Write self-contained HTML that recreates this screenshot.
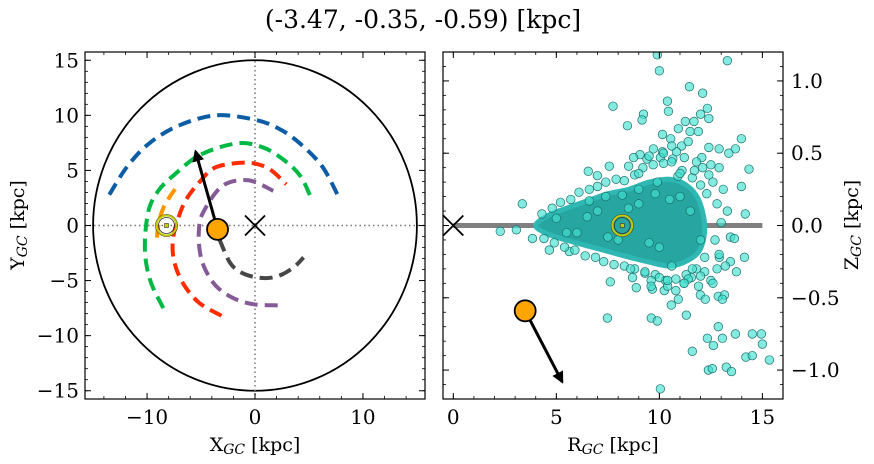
<!DOCTYPE html>
<html><head><meta charset="utf-8"><style>
body{margin:0;background:#fff}
svg{display:block;font-family:"DejaVu Serif","Liberation Serif",serif}
</style></head><body>
<svg id="fig" width="874" height="464" viewBox="0 0 874 464">
<text x="423" y="28" text-anchor="middle" font-size="25">(-3.47, -0.35, -0.59) [kpc]</text>
<g id="left"></g>
<g id="right"></g>
<text x="255" y="451" text-anchor="middle" font-size="19">X<tspan font-style="italic" font-size="14" dy="3">GC</tspan><tspan dy="-3"> [kpc]</tspan></text>
<text transform="translate(24,225) rotate(-90)" text-anchor="middle" font-size="19">Y<tspan font-style="italic" font-size="14" dy="3">GC</tspan><tspan dy="-3"> [kpc]</tspan></text>
<text x="613" y="451" text-anchor="middle" font-size="19">R<tspan font-style="italic" font-size="14" dy="3">GC</tspan><tspan dy="-3"> [kpc]</tspan></text>
<text transform="translate(858,225) rotate(-90)" text-anchor="middle" font-size="19">Z<tspan font-style="italic" font-size="14" dy="3">GC</tspan><tspan dy="-3"> [kpc]</tspan></text>
</svg>
<script>
// ---- data ----
const armBlueX=[-13.5,-11.8,-9.75,-7,-3.6,0,2.2,4.1,6.2,7.7];
const armBlueY=[2.8,5.4,7.5,9.1,10.0,9.6,8.8,7.5,5.4,2.7];
const armGreenX=[-8.5,-9.7,-10.2,-9.9,-9.0,-7.6,-5.1,-1.7,0.7,2.6,4.2,5.2];
const armGreenY=[-7.5,-5.0,-2.2,1.2,3.1,4.5,6.4,7.45,7.1,6.0,4.5,2.5];
const armRedX=[-3.1,-5.2,-6.7,-7.5,-7.6,-7.1,-6.35,-5.0,-3.6,-0.8,1.2,2.9];
const armRedY=[-8.2,-7.0,-5.2,-3.2,-1.25,0.7,2.4,4.1,5.3,5.7,5.2,3.75];
const armPurpleX=[2.1,-0.1,-2.0,-3.6,-4.6,-5.1,-5.2,-4.8,-3.0,-0.6,1.7];
const armPurpleY=[-7.25,-7.15,-6.6,-5.5,-4.0,-2.45,-0.5,1.2,3.6,4.1,3.15];
const armGrayX=[-3.3,-2.3,-1.2,0.1,1.4,2.6,3.7,4.5];
const armGrayY=[-1.25,-3.4,-4.3,-4.7,-4.75,-4.4,-3.7,-2.9];
const armOrangeX=[-9.1,-8.9,-8.5,-7.9,-7.4];
const armOrangeY=[-1.1,0.3,1.6,2.6,3.3];
const objX=-3.47, objY=-0.35, objZ=-0.59;
const velTipX=-5.5, velTipY=6.7, velTipR=5.28, velTipZ=-1.08;
const sunX=-8.2, sunR=8.2;
const xTicksL=[-10,0,10], yTicksL=[-15,-10,-5,0,5,10,15];
const xTicksR=[0,5,10,15], zTicksR=[-1.0,-0.5,0.0,0.5,1.0];
const coreR=[4.0,4.6,5.5,6.5,7.5,8.5,9.5,10.5,11.3,11.9,12.2,12.0,11.4,10.5,9.4,8.3,7.0,5.7,4.6];
const coreZ=[0.0,0.07,0.12,0.17,0.22,0.25,0.3,0.32,0.28,0.18,0.0,-0.16,-0.24,-0.28,-0.25,-0.21,-0.16,-0.11,-0.06];
const starR=[9.9,10.0,13.3,11.46,12.1,7.75,10.39,10.44,12.33,12.0,12.4,9.23,9.16,8.45,11.26,11.68,10.92,11.49,11.89,10.15,10.55,13.98,11.08,9.71,10.15,10.83,12.4,12.9,13.69,13.37,9.06,8.75,10.05,9.4,10.65,11.21,12.06,7.57,8.51,6.55,6.99,14.35,13.98,14.17,3.35,2.28,3.06,3.84,4.66,5.63,13.45,13.64,14.13,13.74,13.45,12.91,7.62,8.88,9.66,10.24,10.58,10.92,11.99,12.23,12.86,13.16,13.06,11.55,7.48,9.61,9.9,12.86,12.33,13.06,12.62,13.69,14.51,14.95,15.0,14.2,14.51,15.34,11.6,12.38,12.57,13.25,13.5,10.05,11.31,
 4.3,4.8,5.2,5.7,6.1,6.6,7.0,7.4,7.9,8.3,8.8,9.2,9.7,10.2,10.6,11.1,11.6,12.0,12.3,
 4.4,4.9,5.4,5.9,6.4,6.9,7.3,7.8,8.3,8.8,9.3,9.8,10.3,10.8,11.3,11.8,12.2,
 12.6,12.8,13.0,12.7,13.2,12.5,11.9,11.2,10.4,9.6,8.7,9.9,10.9,11.7,12.5,13.1,12.9,12.2,11.4,10.6,9.8,9.0,8.2,7.4,6.6,
 5.0,6.0,7.0,8.0,9.0,10.0,11.0,12.0,5.5,6.5,7.5,8.5,9.5,10.5,11.5,
 9.5,10.2,11.0,11.8,12.4,9.0,10.6,11.4,12.1,12.9,9.3,10.0,10.8,11.6,12.6,8.6,9.6,10.4,11.2,12.0,12.8,13.3];
const starZ=[1.18,1.07,1.14,0.96,0.915,0.825,0.86,0.79,0.81,0.77,0.74,0.77,0.73,0.69,0.72,0.72,0.67,0.65,0.65,0.63,0.6,0.6,0.55,0.53,0.51,0.51,0.54,0.53,0.53,0.5,0.49,0.47,0.47,0.46,0.46,0.47,0.47,0.41,0.41,0.375,0.345,0.39,0.27,0.08,0.15,-0.04,-0.03,-0.09,-0.17,-0.18,-0.08,-0.09,-0.22,-0.32,-0.25,-0.22,-0.39,-0.43,-0.44,-0.45,-0.55,-0.51,-0.48,-0.51,-0.49,-0.48,-0.51,-0.36,-0.64,-0.64,-0.66,-0.7,-0.78,-0.78,-0.83,-0.75,-0.75,-0.75,-0.82,-0.91,-0.9,-0.93,-0.87,-1.0,-0.99,-0.98,-1.01,-1.13,-0.62,
 0.08,0.12,0.16,0.18,0.23,0.25,0.27,0.3,0.32,0.31,0.35,0.4,0.42,0.43,0.44,0.38,0.33,0.28,0.22,
 -0.09,-0.12,-0.15,-0.17,-0.21,-0.22,-0.25,-0.27,-0.28,-0.3,-0.33,-0.34,-0.38,-0.37,-0.34,-0.3,-0.22,
 0.3,0.15,0.02,-0.1,-0.28,-0.38,-0.42,-0.4,-0.42,-0.38,-0.36,0.3,0.34,0.38,0.42,0.25,-0.2,-0.32,-0.37,-0.28,0.22,0.25,0.21,0.2,0.17,
 0.05,-0.05,0.1,-0.1,0.15,-0.15,0.2,-0.1,-0.05,0.06,-0.08,0.12,-0.12,0.18,0.1,
 0.48,0.5,0.36,0.44,0.35,0.36,0.55,0.58,0.4,0.4,-0.32,-0.36,-0.45,-0.3,-0.4,-0.3,-0.42,-0.38,-0.4,-0.35,-0.3,0.1];

// ---- helpers ----
const NS='http://www.w3.org/2000/svg';
function mk(parent,tag,attrs){const e=document.createElementNS(NS,tag);for(const k in attrs)e.setAttribute(k,attrs[k]);parent.appendChild(e);return e;}
const L={x0:85,x1:425,y0:52,y1:399,xmin:-15.75,xmax:15.75,ymin:-15.75,ymax:15.75};
const R={x0:443,x1:783,y0:52,y1:399,xmin:-0.5,xmax:16.0,ymin:-1.2,ymax:1.2};
const sx=(p,v)=>p.x0+(v-p.xmin)/(p.xmax-p.xmin)*(p.x1-p.x0);
const sy=(p,v)=>p.y1-(v-p.ymin)/(p.ymax-p.ymin)*(p.y1-p.y0);
function smooth(pts,closed){
  const n=pts.length;let d=`M${pts[0][0].toFixed(1)},${pts[0][1].toFixed(1)}`;
  const get=i=>closed?pts[(i+n)%n]:pts[Math.max(0,Math.min(n-1,i))];
  const m=closed?n:n-1;
  for(let i=0;i<m;i++){const p0=get(i-1),p1=get(i),p2=get(i+1),p3=get(i+2);
    const c1=[p1[0]+(p2[0]-p0[0])/6,p1[1]+(p2[1]-p0[1])/6],c2=[p2[0]-(p3[0]-p1[0])/6,p2[1]-(p3[1]-p1[1])/6];
    d+=`C${c1[0].toFixed(1)},${c1[1].toFixed(1)} ${c2[0].toFixed(1)},${c2[1].toFixed(1)} ${p2[0].toFixed(1)},${p2[1].toFixed(1)}`;}
  return d+(closed?'Z':'');
}
const gl=document.getElementById('left'), gr=document.getElementById('right');
mk(gl,'defs',{}).innerHTML='<clipPath id="cl"><rect x="85" y="52" width="340" height="347"/></clipPath><clipPath id="cr"><rect x="443" y="52" width="340" height="347"/></clipPath><marker id="ah" viewBox="0 0 10 10" refX="8" refY="5" markerWidth="4" markerHeight="4" orient="auto"><path d="M0,0 L10,5 L0,10 z" fill="#000"/></marker>';

function ticks(g,p,xs,ys,xminor,yminor,yRight){
  for(let v=Math.ceil(p.xmin/xminor)*xminor;v<=p.xmax+1e-9;v+=xminor){const x=sx(p,v);
    const t1=mk(g,'line',{x1:x,x2:x,y1:p.y1,y2:p.y1-3,stroke:'#000','stroke-width':0.8});
    const t2=mk(g,'line',{x1:x,x2:x,y1:p.y0,y2:p.y0+3,stroke:'#000','stroke-width':0.8});}
  for(let v=Math.ceil(p.ymin/yminor-1e-9)*yminor;v<=p.ymax+1e-9;v+=yminor){const y=sy(p,v);
    const t1=mk(g,'line',{x1:p.x0,x2:p.x0+3,y1:y,y2:y,stroke:'#000','stroke-width':0.8});
    const t2=mk(g,'line',{x1:p.x1,x2:p.x1-3,y1:y,y2:y,stroke:'#000','stroke-width':0.8});}
  xs.forEach(v=>{const x=sx(p,v);
    const a=mk(g,'line',{x1:x,x2:x,y1:p.y1,y2:p.y1-6,stroke:'#000','stroke-width':1});
    const b=mk(g,'line',{x1:x,x2:x,y1:p.y0,y2:p.y0+6,stroke:'#000','stroke-width':1});
    const t=mk(g,'text',{x:x,y:p.y1+25,'text-anchor':'middle','font-size':20});t.textContent=String(v).replace('-','\u2212');
    });
  ys.forEach(v=>{const y=sy(p,v);
    const a=mk(g,'line',{x1:p.x0,x2:p.x0+6,y1:y,y2:y,stroke:'#000','stroke-width':1});
    const b=mk(g,'line',{x1:p.x1,x2:p.x1-6,y1:y,y2:y,stroke:'#000','stroke-width':1});
    const lab=yRight?v.toFixed(1):String(v);
    const t=mk(g,'text',{x:yRight?p.x1+8:p.x0-6,y:y+7,'text-anchor':yRight?'start':'end','font-size':20});t.textContent=lab.replace('-','\u2212');
    });
}

// ---- left panel ----
const cL=mk(gl,'g',{'clip-path':'url(#cl)'});
const circ=mk(cL,'ellipse',{cx:sx(L,0),cy:sy(L,0),rx:sx(L,15)-sx(L,0),ry:sy(L,0)-sy(L,15),fill:'none',stroke:'#000','stroke-width':1.8});

const hz=mk(cL,'line',{x1:L.x0,x2:L.x1,y1:sy(L,0),y2:sy(L,0),stroke:'#777','stroke-width':1.5,'stroke-dasharray':'1.5 3'});

const vt=mk(cL,'line',{x1:sx(L,0),x2:sx(L,0),y1:L.y0,y2:L.y1,stroke:'#777','stroke-width':1.5,'stroke-dasharray':'1.5 3'});

function arm(xs,ys,color,name){
  const pts=xs.map((x,i)=>[sx(L,x),sy(L,ys[i])]);
  const e=mk(cL,'path',{d:smooth(pts,false),fill:'none',stroke:color,'stroke-width':4,'stroke-dasharray':'13 7'});
  
}
arm(armBlueX,armBlueY,'#0C5DA5','perseus-arm');
arm(armGreenX,armGreenY,'#00B945','local-arm-outer');
arm(armOrangeX,armOrangeY,'#FF9500','orion-spur');
arm(armRedX,armRedY,'#FF2C00','sagittarius-arm');
arm(armPurpleX,armPurpleY,'#845B97','scutum-arm');
arm(armGrayX,armGrayY,'#474747','norma-arm');
function xmark(g,cx,cy,name){const s=10;
  const e=mk(g,'path',{d:`M${cx-s},${cy-s}L${cx+s},${cy+s}M${cx-s},${cy+s}L${cx+s},${cy-s}`,stroke:'#000','stroke-width':1.8,fill:'none'});
  }
xmark(cL,sx(L,0),sy(L,0),'galactic-center-marker');
function sun(g,cx,cy){const s=mk(g,'g',{});
  mk(s,'circle',{cx:cx,cy:cy,r:11,fill:'none',stroke:'#222','stroke-width':0.8});
  mk(s,'circle',{cx:cx,cy:cy,r:10,fill:'none',stroke:'#c8c800','stroke-width':2});
  mk(s,'circle',{cx:cx,cy:cy,r:8,fill:'none',stroke:'#333','stroke-width':0.8});
  mk(s,'rect',{x:cx-2,y:cy-2,width:4,height:4,fill:'#c8c800',stroke:'#333','stroke-width':0.6});}
sun(cL,sx(L,sunX),sy(L,0));
const aL=mk(cL,'line',{x1:sx(L,objX),y1:sy(L,objY),x2:sx(L,velTipX),y2:sy(L,velTipY),stroke:'#000','stroke-width':3,'marker-end':'url(#ah)'});

const oL=mk(cL,'circle',{cx:sx(L,objX),cy:sy(L,objY),r:10.5,fill:'#FFA500',stroke:'#000','stroke-width':1.8});

ticks(gl,L,xTicksL,yTicksL,2,1,false);
const fL=mk(gl,'rect',{x:L.x0,y:L.y0,width:L.x1-L.x0,height:L.y1-L.y0,fill:'none',stroke:'#000','stroke-width':1.2});


// ---- right panel ----
const cR=mk(gr,'g',{'clip-path':'url(#cr)'});
const pl2=mk(cR,'line',{x1:sx(R,0),x2:sx(R,15),y1:sy(R,0),y2:sy(R,0),stroke:'#808080','stroke-width':5});

const env=mk(cR,'path',{d:smooth(coreR.map((r,i)=>[sx(R,r),sy(R,coreZ[i])]),true),fill:'#26a5a1',stroke:'#2fb8b3','stroke-width':5,'stroke-linejoin':'round'});

starR.forEach((r,i)=>{
  const c=mk(cR,'circle',{cx:sx(R,r),cy:sy(R,starZ[i]),r:4.3,fill:'rgba(64,224,208,0.65)',stroke:'#1d6f6c','stroke-width':0.7});
  
  
});
xmark(cR,sx(R,0),sy(R,0),'galactic-center-marker-rz');
sun(cR,sx(R,sunR),sy(R,0));
const objR=Math.hypot(objX,objY);
const aR=mk(cR,'line',{x1:sx(R,objR),y1:sy(R,objZ),x2:sx(R,velTipR),y2:sy(R,velTipZ),stroke:'#000','stroke-width':3,'marker-end':'url(#ah)'});

const oR=mk(cR,'circle',{cx:sx(R,objR),cy:sy(R,objZ),r:10.5,fill:'#FFA500',stroke:'#000','stroke-width':1.8});

ticks(gr,R,xTicksR,zTicksR,1,0.1,true);
const fR=mk(gr,'rect',{x:R.x0,y:R.y0,width:R.x1-R.x0,height:R.y1-R.y0,fill:'none',stroke:'#000','stroke-width':1.2});

</script>
</body></html>
